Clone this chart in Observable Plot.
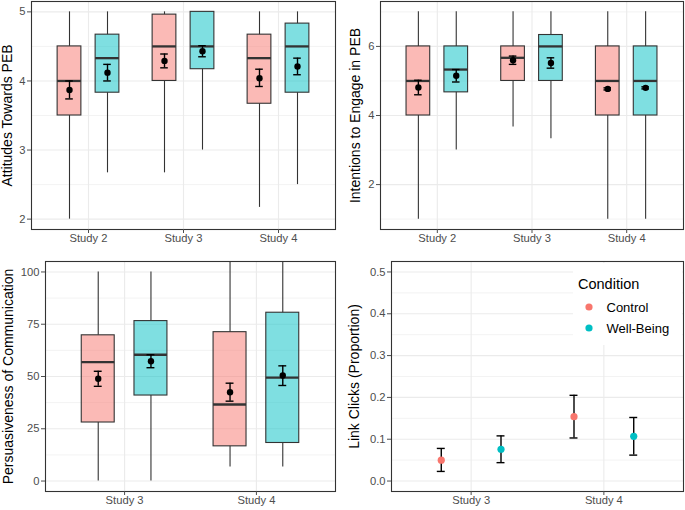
<!DOCTYPE html>
<html><head><meta charset="utf-8">
<script src="https://cdn.jsdelivr.net/npm/d3@7"></script>
<script src="https://cdn.jsdelivr.net/npm/@observablehq/plot@0.6"></script>
<style>
body{margin:0;background:#fff;font-family:"Liberation Sans",Arial,Helvetica,sans-serif;}
#root{position:relative;width:685px;height:510px;overflow:hidden;background:#fff;}
.panel{position:absolute;}
</style></head><body><div id="root"></div>
<script>
// ---------- data ----------
const conditions = ["Control", "Well-Being"];
const condColors = ["#F8766D", "#00BFC4"];

// Panel A: Attitudes Towards PEB
const attStudies = ["Study 2", "Study 3", "Study 4"];
const attStudy = ["Study 2", "Study 2", "Study 3", "Study 3", "Study 4", "Study 4"];
const attCond = ["Control", "Well-Being", "Control", "Well-Being", "Control", "Well-Being"];
const attLow  = [2.0, 2.67, 2.67, 3.0, 2.17, 2.5];
const attQ1   = [3.5, 3.83, 4.0, 4.17, 3.67, 3.83];
const attMed  = [4.0, 4.33, 4.5, 4.5, 4.33, 4.5];
const attQ3   = [4.5, 4.67, 4.96, 5.0, 4.67, 4.83];
const attHigh = [5, 5, 5, 5, 5, 5];
const attMean = [3.87, 4.12, 4.29, 4.43, 4.04, 4.21];
const attLo   = [3.74, 4.0, 4.19, 4.35, 3.92, 4.09];
const attHi   = [4.0, 4.24, 4.39, 4.51, 4.17, 4.33];
const attTicks = [2, 3, 4, 5];
const attMinor = [2.5, 3.5, 4.5];

// Panel B: Intentions to Engage in PEB
const intStudies = ["Study 2", "Study 3", "Study 4"];
const intStudy = ["Study 2", "Study 2", "Study 3", "Study 3", "Study 4", "Study 4"];
const intCond = ["Control", "Well-Being", "Control", "Well-Being", "Control", "Well-Being"];
const intLow  = [1, 3, 3.67, 3.33, 1, 1];
const intQ1   = [4, 4.67, 5, 5, 4, 4];
const intMed  = [5, 5.33, 5.67, 6, 5, 5];
const intQ3   = [6, 6, 6, 6.33, 6, 6];
const intHigh = [7, 7, 7, 7, 7, 7];
const intMean = [4.81, 5.15, 5.6, 5.52, 4.77, 4.8];
const intLo   = [4.6, 4.97, 5.48, 5.37, 4.74, 4.77];
const intHi   = [5.02, 5.33, 5.72, 5.67, 4.8, 4.83];
const intTicks = [2, 4, 6];
const intMinor = [1, 3, 5, 7];

// Panel C: Persuasiveness of Communication
const perStudies = ["Study 3", "Study 4"];
const perStudy = ["Study 3", "Study 3", "Study 4", "Study 4"];
const perCond = ["Control", "Well-Being", "Control", "Well-Being"];
const perLow  = [0, 0, 6.7, 6.7];
const perQ1   = [28, 40.9, 16.6, 18.2];
const perMed  = [56.9, 60.4, 36.6, 49.5];
const perQ3   = [69.7, 76.5, 71.2, 80.5];
const perHigh = [100, 100, 110, 110];
const perMean = [48.9, 57.3, 42.5, 50.5];
const perLo   = [45.3, 54.2, 38.2, 45.7];
const perHi   = [52.5, 60.4, 46.8, 55.1];
const perTicks = [0, 25, 50, 75, 100];
const perMinor = [12.5, 37.5, 62.5, 87.5];

// Panel D: Link Clicks (Proportion)
const clkStudies = ["Study 3", "Study 4"];
const clkStudy = ["Study 3", "Study 3", "Study 4", "Study 4"];
const clkCond = ["Control", "Well-Being", "Control", "Well-Being"];
const clkProp = [0.05, 0.076, 0.154, 0.107];
const clkLo   = [0.023, 0.044, 0.103, 0.062];
const clkHi   = [0.078, 0.108, 0.205, 0.152];
const clkTicks = [0, 0.1, 0.2, 0.3, 0.4, 0.5];
const clkMinor = [0.05, 0.15, 0.25, 0.35, 0.45];

// ---------- helpers ----------
const FONT = '"Liberation Sans", Arial, Helvetica, sans-serif';
const root = document.getElementById("root");

function makeRows(studies, studyCol, condCol, fields, dodge) {
  return studyCol.map((s, k) => {
    const r = {study: s, cond: condCol[k],
      xc: studies.indexOf(s) + 1 + (condCol[k] === conditions[0] ? -dodge : dodge)};
    for (const [name, arr] of Object.entries(fields)) r[name] = arr[k];
    return r;
  });
}

function place(svg, left, top) {
  const d = document.createElement("div");
  d.className = "panel";
  d.style.left = left + "px";
  d.style.top = top + "px";
  d.appendChild(svg);
  root.appendChild(d);
}

function commonMarks(cfg, n) {
  const xt = d3.range(1, n + 1);
  return {
    grid: [
      Plot.ruleY(cfg.minor, {stroke: "#EBEBEB", strokeWidth: 0.6}),
      Plot.ruleY(cfg.major, {stroke: "#EBEBEB", strokeWidth: 1.1}),
      Plot.ruleX(xt, {stroke: "#EBEBEB", strokeWidth: 1.1})
    ],
    axes: [
      Plot.frame({stroke: "#333333", strokeWidth: 1.1}),
      Plot.axisY(cfg.major, {tickSize: 4, tickPadding: 2, color: "#4D4D4D", fontSize: 11.2,
        label: null, tickFormat: cfg.tickFormat || (d => String(d))}),
      Plot.axisX(xt, {tickSize: 4, tickPadding: 1, color: "#4D4D4D", fontSize: 11.2,
        label: null, tickFormat: i => cfg.studies[i - 1]}),
      Plot.text([cfg.label], {frameAnchor: "left", rotate: -90, dx: cfg.titleDx,
        textAnchor: "middle", lineAnchor: "top", fontSize: 14, fill: "black", text: d => d})
    ]
  };
}

function boxPlot(cfg) {
  const n = cfg.studies.length;
  const bw = 0.125, cap = cfg.cap;
  const rows = cfg.rows;
  const cm = commonMarks(cfg, n);
  return Plot.plot({
    width: cfg.width, height: cfg.height,
    marginLeft: cfg.ml, marginRight: cfg.mr, marginTop: cfg.mt, marginBottom: cfg.mb,
    style: {fontFamily: FONT, background: "white", overflow: "visible"},
    x: {domain: [0.4, n + 0.6], axis: null},
    y: {domain: cfg.yDomain, axis: null},
    color: {domain: conditions, range: condColors},
    marks: [
      ...cm.grid,
      Plot.ruleX(rows, {x: "xc", y1: "low", y2: "q1", stroke: "#333333", strokeWidth: 1.1, clip: true}),
      Plot.ruleX(rows, {x: "xc", y1: "q3", y2: "high", stroke: "#333333", strokeWidth: 1.1, clip: true}),
      Plot.rect(rows, {x1: d => d.xc - bw, x2: d => d.xc + bw, y1: "q1", y2: "q3",
        fill: "cond", fillOpacity: 0.5, stroke: "#333333", strokeWidth: 1.1}),
      Plot.ruleY(rows, {y: "med", x1: d => d.xc - bw, x2: d => d.xc + bw, stroke: "#333333", strokeWidth: 2.3}),
      Plot.ruleX(rows, {x: "xc", y1: "lo", y2: "hi", stroke: "black", strokeWidth: 1.4}),
      Plot.ruleY(rows, {y: "lo", x1: d => d.xc - cap, x2: d => d.xc + cap, stroke: "black", strokeWidth: 1.4}),
      Plot.ruleY(rows, {y: "hi", x1: d => d.xc - cap, x2: d => d.xc + cap, stroke: "black", strokeWidth: 1.4}),
      Plot.dot(rows, {x: "xc", y: "mean", r: 3.2, fill: "black"}),
      ...cm.axes
    ]
  });
}

// ---------- panel A ----------
place(boxPlot({
  studies: attStudies,
  rows: makeRows(attStudies, attStudy, attCond,
    {low: attLow, q1: attQ1, med: attMed, q3: attQ3, high: attHigh, mean: attMean, lo: attLo, hi: attHi}, 0.2),
  yDomain: [1.85, 5.15], major: attTicks, minor: attMinor,
  label: "Attitudes Towards PEB", titleDx: -29,
  width: 340, height: 255, ml: 31, mr: 5, mt: 1, mb: 26, cap: 0.04
}), 0, 0);

// ---------- panel B ----------
place(boxPlot({
  studies: intStudies,
  rows: makeRows(intStudies, intStudy, intCond,
    {low: intLow, q1: intQ1, med: intMed, q3: intQ3, high: intHigh, mean: intMean, lo: intLo, hi: intHi}, 0.2),
  yDomain: [0.7, 7.3], major: intTicks, minor: intMinor,
  label: "Intentions to Engage in PEB", titleDx: -30,
  width: 345, height: 255, ml: 40, mr: 2, mt: 1, mb: 26, cap: 0.04
}), 340, 0);

// ---------- panel C ----------
place(boxPlot({
  studies: perStudies,
  rows: makeRows(perStudies, perStudy, perCond,
    {low: perLow, q1: perQ1, med: perMed, q3: perQ3, high: perHigh, mean: perMean, lo: perLo, hi: perHi}, 0.2),
  yDomain: [-5, 105], major: perTicks, minor: perMinor,
  label: "Persuasiveness of Communication", titleDx: -42.5,
  width: 340, height: 255, ml: 45, mr: 5, mt: 6, mb: 19, cap: 0.03
}), 0, 255);

// ---------- panel D ----------
(function () {
  const cfg = {
    studies: clkStudies, major: clkTicks, minor: clkMinor,
    label: "Link Clicks (Proportion)", titleDx: -42, tickFormat: d3.format(".1f")
  };
  const rows = makeRows(clkStudies, clkStudy, clkCond, {p: clkProp, lo: clkLo, hi: clkHi}, 0.225);
  const n = clkStudies.length, cap = 0.03;
  const cm = commonMarks(cfg, n);
  const svg = Plot.plot({
    width: 345, height: 255, marginLeft: 51, marginRight: 2, marginTop: 6, marginBottom: 19,
    style: {fontFamily: FONT, background: "white", overflow: "visible"},
    x: {domain: [0.4, n + 0.6], axis: null},
    y: {domain: [-0.025, 0.525], axis: null},
    color: {domain: conditions, range: condColors},
    marks: [
      ...cm.grid,
      Plot.ruleX(rows, {x: "xc", y1: "lo", y2: "hi", stroke: "black", strokeWidth: 1.4}),
      Plot.ruleY(rows, {y: "lo", x1: d => d.xc - cap, x2: d => d.xc + cap, stroke: "black", strokeWidth: 1.4}),
      Plot.ruleY(rows, {y: "hi", x1: d => d.xc - cap, x2: d => d.xc + cap, stroke: "black", strokeWidth: 1.4}),
      Plot.dot(rows, {x: "xc", y: "p", r: 3.6, fill: "cond"}),
      ...cm.axes
    ]
  });
  place(svg, 340, 255);

  // legend
  const lg = d3.create("svg").attr("width", 109).attr("height", 82)
    .style("position", "absolute").style("left", "573px").style("top", "263px")
    .style("font-family", FONT);
  lg.append("rect").attr("width", 109).attr("height", 82).attr("fill", "white");
  lg.append("text").attr("x", 5).attr("y", 25.5).attr("font-size", 14.5).attr("fill", "black").text("Condition");
  conditions.forEach((c, i) => {
    const cy = 44 + i * 21;
    lg.append("circle").attr("cx", 16).attr("cy", cy).attr("r", 3.6).attr("fill", condColors[i]);
    lg.append("text").attr("x", 33.5).attr("y", cy + 4.8).attr("font-size", 13).attr("fill", "black").text(c);
  });
  root.appendChild(lg.node());
})();
</script>
</body></html>
